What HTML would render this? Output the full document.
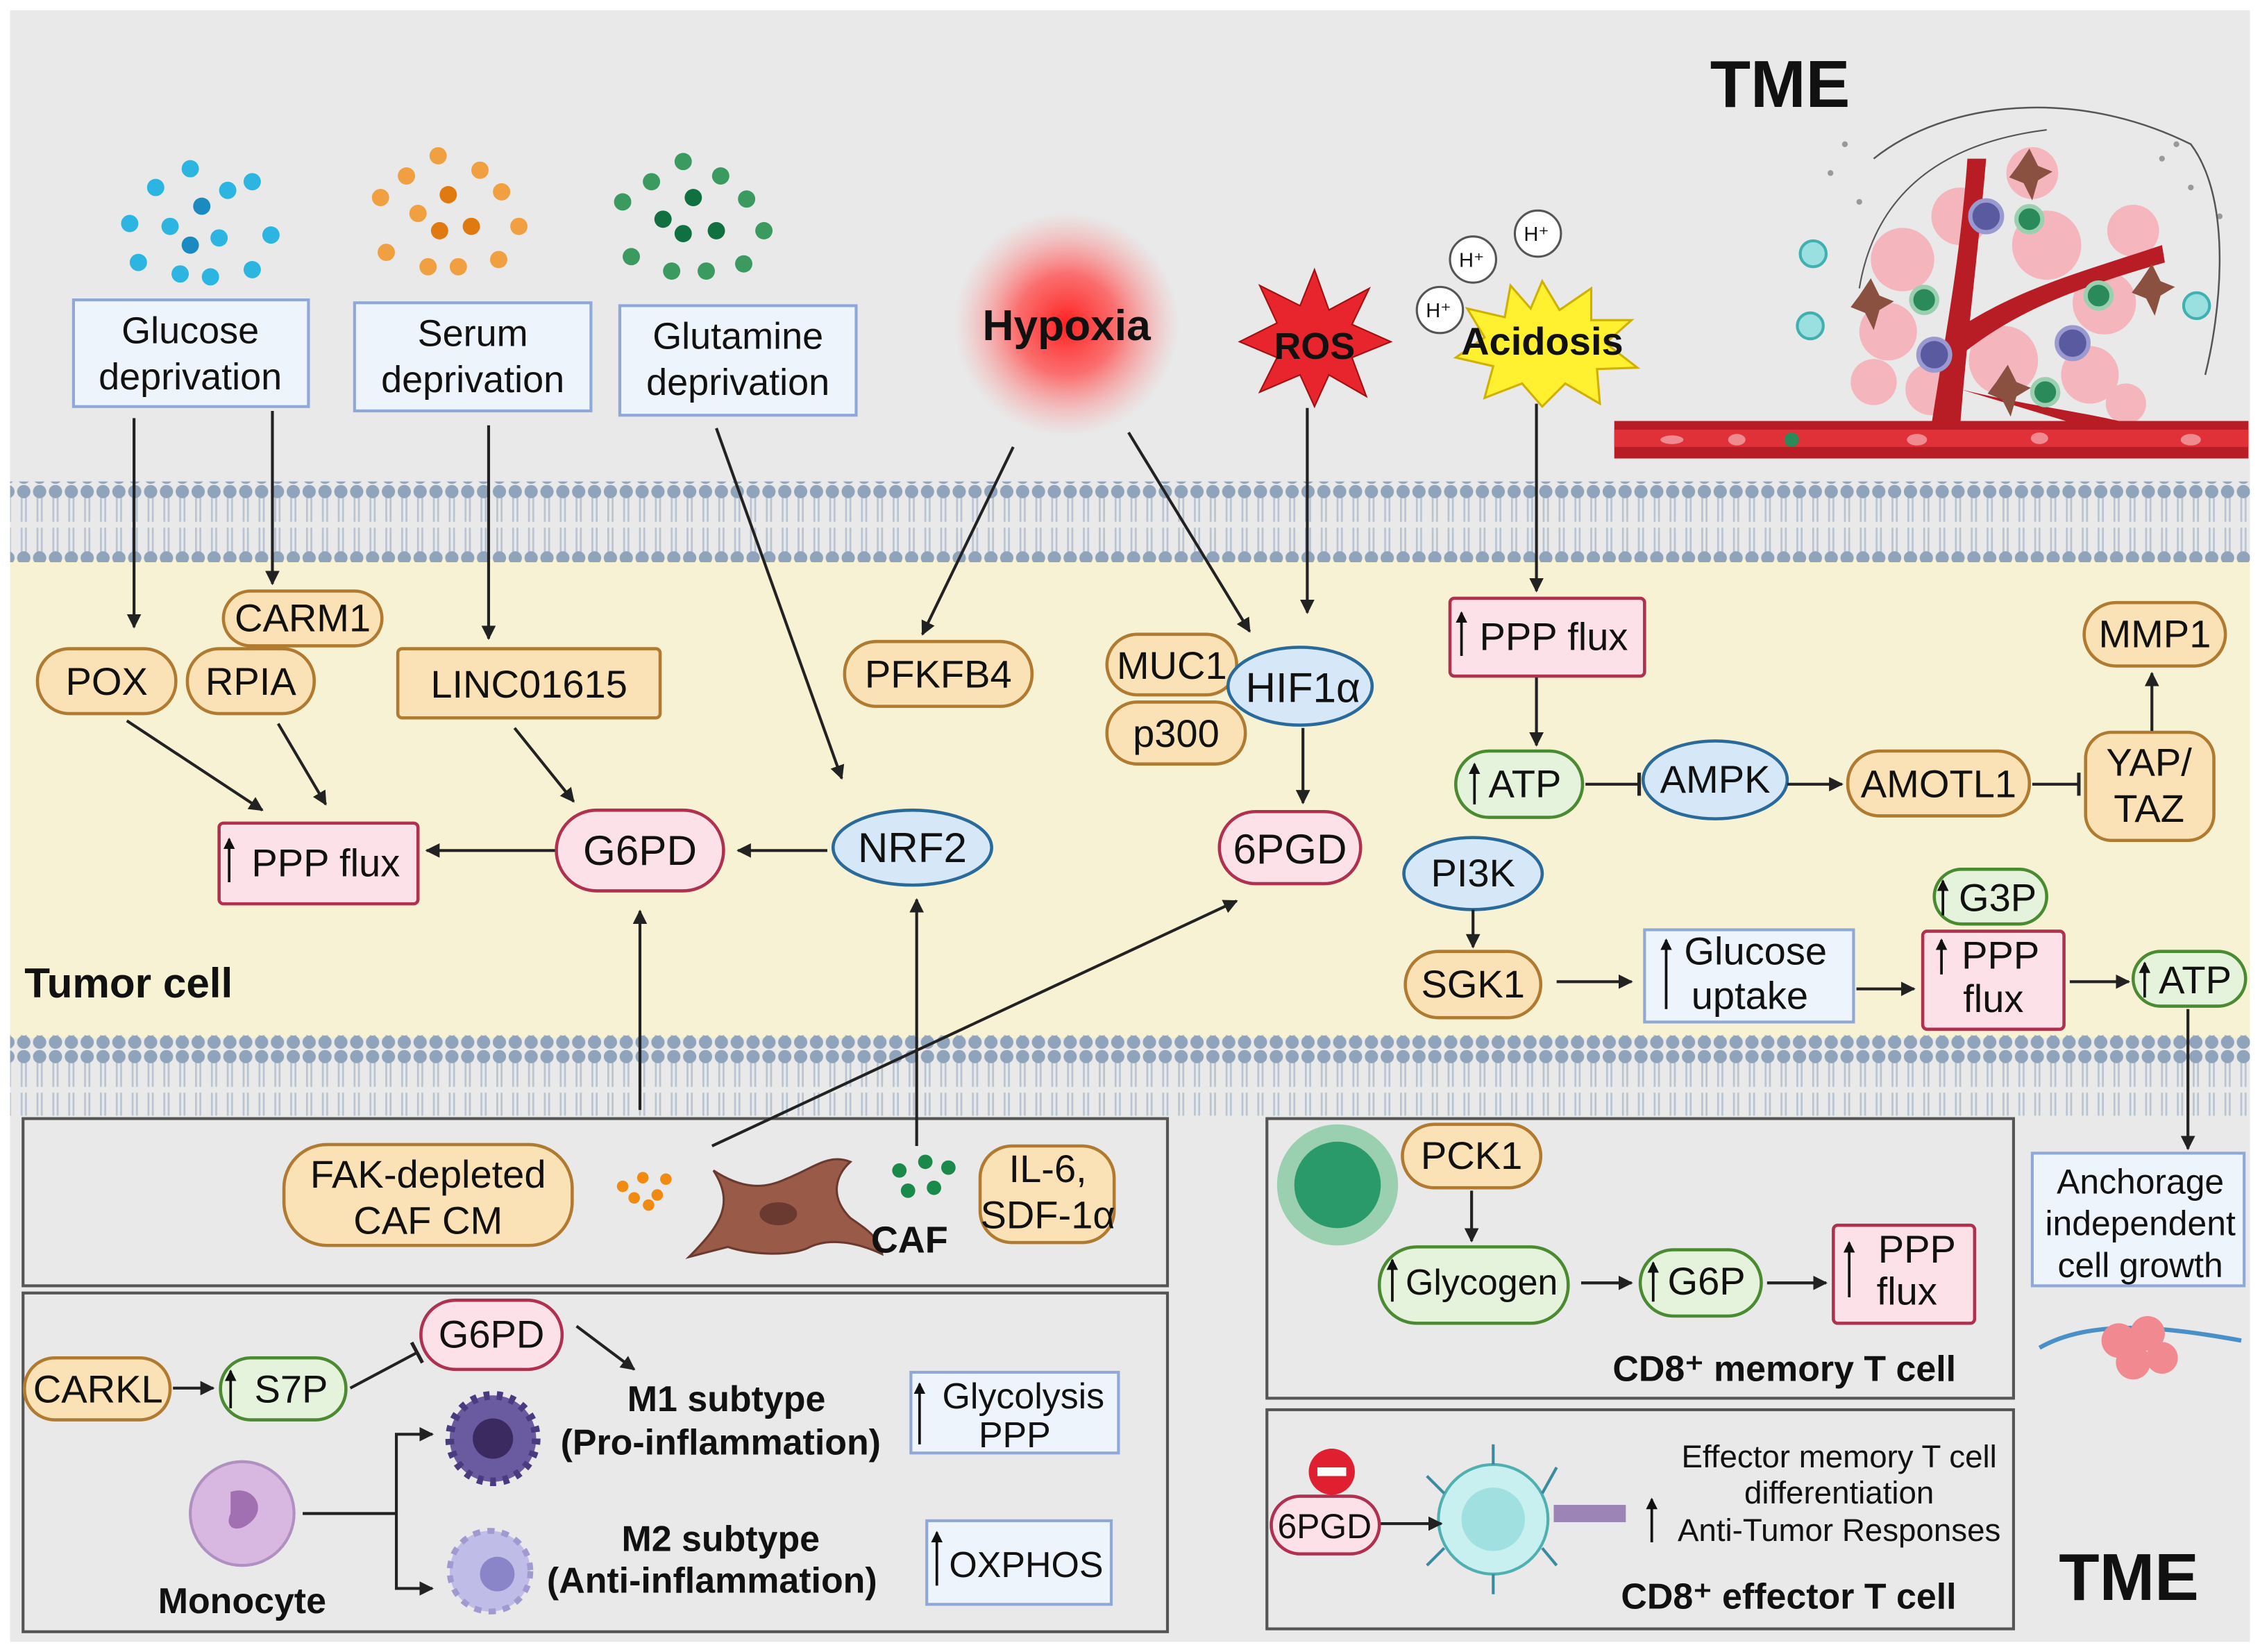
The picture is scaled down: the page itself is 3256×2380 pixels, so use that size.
<!DOCTYPE html>
<html><head><meta charset="utf-8"><style>
html,body{margin:0;padding:0;background:#fff;}
svg{display:block;}
text{font-family:"Liberation Sans",sans-serif;}
</style></head><body>
<svg width="3256" height="2380" viewBox="0 0 1568 1146" xmlns="http://www.w3.org/2000/svg">
<defs>
<marker id="ar" markerWidth="10" markerHeight="10" refX="9" refY="5" orient="auto" markerUnits="userSpaceOnUse"><path d="M0,0 L10,5 L0,10 z" fill="#222"/></marker>
<marker id="tee" markerWidth="4" markerHeight="16" refX="2" refY="8" orient="auto" markerUnits="userSpaceOnUse"><rect x="0" y="0" width="2.5" height="16" fill="#222"/></marker>
<marker id="ua" markerWidth="8" markerHeight="8" refX="7" refY="4" orient="auto" markerUnits="userSpaceOnUse"><path d="M0,0 L8,4 L0,8 z" fill="#111"/></marker>
<pattern id="mem" x="0" y="0" width="11" height="56" patternUnits="userSpaceOnUse">
<line x1="4" y1="8" x2="4" y2="26" stroke="#b8c4d2" stroke-width="1.3"/><line x1="7" y1="8" x2="7" y2="26" stroke="#b8c4d2" stroke-width="1.3"/>
<line x1="4" y1="30" x2="4" y2="48" stroke="#b8c4d2" stroke-width="1.3"/><line x1="7" y1="30" x2="7" y2="48" stroke="#b8c4d2" stroke-width="1.3"/>
<circle cx="5.5" cy="5" r="4.6" fill="#8fa3ba"/><circle cx="5.5" cy="51" r="4.6" fill="#8fa3ba"/>
</pattern>
<radialGradient id="hyp"><stop offset="0" stop-color="#ff2020"/><stop offset="0.45" stop-color="#ff5050" stop-opacity="0.8"/><stop offset="1" stop-color="#ff9090" stop-opacity="0"/></radialGradient>
</defs>
<rect width="1568" height="1146" fill="#fff"/>
<rect x="7" y="7" width="1554" height="1132" fill="#e9e9e9"/>
<rect x="7" y="388" width="1554" height="332" fill="#f7f2d4"/>
<rect x="7" y="334" width="1554" height="56" fill="url(#mem)"/>
<rect x="7" y="718" width="1554" height="56" fill="url(#mem)"/>

<g fill="#2bb5e0">
<circle cx="132" cy="117" r="6"/><circle cx="108" cy="130" r="6"/><circle cx="158" cy="132" r="6"/><circle cx="90" cy="155" r="6"/><circle cx="118" cy="157" r="6"/><circle cx="140" cy="143" r="6" fill="#1a8ac0"/><circle cx="152" cy="165" r="6"/><circle cx="175" cy="126" r="6"/><circle cx="188" cy="163" r="6"/><circle cx="96" cy="182" r="6"/><circle cx="125" cy="190" r="6"/><circle cx="146" cy="192" r="6"/><circle cx="175" cy="187" r="6"/><circle cx="132" cy="170" r="6" fill="#1a8ac0"/></g>
<g fill="#f0a040">
<circle cx="304" cy="108" r="6"/><circle cx="282" cy="122" r="6"/><circle cx="333" cy="118" r="6"/><circle cx="264" cy="137" r="6"/><circle cx="311" cy="135" r="6" fill="#e07a10"/><circle cx="348" cy="133" r="6"/><circle cx="290" cy="148" r="6"/><circle cx="305" cy="160" r="6" fill="#e07a10"/><circle cx="327" cy="157" r="6" fill="#e07a10"/><circle cx="360" cy="157" r="6"/><circle cx="268" cy="175" r="6"/><circle cx="297" cy="185" r="6"/><circle cx="318" cy="185" r="6"/><circle cx="346" cy="180" r="6"/></g>
<g fill="#3a9a60">
<circle cx="474" cy="112" r="6"/><circle cx="452" cy="126" r="6"/><circle cx="500" cy="122" r="6"/><circle cx="432" cy="140" r="6"/><circle cx="481" cy="137" r="6" fill="#107040"/><circle cx="518" cy="138" r="6"/><circle cx="460" cy="152" r="6" fill="#107040"/><circle cx="474" cy="162" r="6" fill="#107040"/><circle cx="497" cy="160" r="6" fill="#107040"/><circle cx="530" cy="160" r="6"/><circle cx="438" cy="178" r="6"/><circle cx="466" cy="188" r="6"/><circle cx="490" cy="188" r="6"/><circle cx="516" cy="183" r="6"/></g>

<g fill="#eef4fc" stroke="#8fa8d8" stroke-width="2">
<rect x="51" y="208" width="163" height="74"/><rect x="246" y="210" width="164" height="75"/><rect x="430" y="212" width="164" height="76"/>
<rect x="1141" y="645" width="145" height="64"/><rect x="1410" y="800" width="147" height="92"/></g>
<g font-size="26" fill="#111" text-anchor="middle">
<text x="132" y="238">Glucose</text><text x="132" y="270">deprivation</text>
<text x="328" y="240">Serum</text><text x="328" y="272">deprivation</text>
<text x="512" y="242">Glutamine</text><text x="512" y="274">deprivation</text></g>

<circle cx="740" cy="225" r="78" fill="url(#hyp)"/>
<text x="740" y="236" font-size="30" font-weight="bold" text-anchor="middle" fill="#111">Hypoxia</text>
<polygon points="912,187 922,215 950,200 938,225 965,237 938,248 948,275 922,260 912,282 902,260 874,272 886,248 860,237 886,224 874,198 902,212" fill="#e8242c" stroke="#a01010" stroke-width="1"/>
<text x="912" y="249" font-size="26" font-weight="bold" text-anchor="middle" fill="#111">ROS</text>
<polygon points="1070,195 1082,215 1104,200 1104,222 1132,222 1114,238 1136,255 1108,256 1110,280 1086,266 1070,282 1056,266 1030,276 1036,254 1010,248 1030,234 1018,214 1044,220 1048,198 1062,214" fill="#fff030" stroke="#d0b000" stroke-width="1.5"/>
<text x="1070" y="246" font-size="27" font-weight="bold" text-anchor="middle" fill="#111">Acidosis</text>
<g fill="#fff" stroke="#555" stroke-width="1.5"><circle cx="1022" cy="180" r="16"/><circle cx="1067" cy="162" r="16"/><circle cx="999" cy="215" r="16"/></g>
<g font-size="14" text-anchor="middle" fill="#111"><text x="1021" y="185">H⁺</text><text x="1066" y="167">H⁺</text><text x="998" y="220">H⁺</text></g>

<text x="1235" y="74" font-size="46" font-weight="bold" text-anchor="middle" fill="#111">TME</text>
<g fill="#f6b0b8" opacity="0.9">
<circle cx="1320" cy="180" r="22"/><circle cx="1360" cy="150" r="20"/><circle cx="1420" cy="170" r="24"/><circle cx="1460" cy="210" r="22"/><circle cx="1310" cy="230" r="20"/><circle cx="1390" cy="250" r="24"/><circle cx="1450" cy="260" r="20"/><circle cx="1340" cy="270" r="18"/><circle cx="1410" cy="120" r="18"/><circle cx="1480" cy="160" r="18"/><circle cx="1300" cy="265" r="16"/><circle cx="1475" cy="280" r="14"/></g>
<g fill="#999"><circle cx="1270" cy="120" r="2"/><circle cx="1290" cy="140" r="2"/><circle cx="1500" cy="110" r="2"/><circle cx="1520" cy="130" r="2"/><circle cx="1540" cy="150" r="2"/><circle cx="1510" cy="100" r="2"/><circle cx="1280" cy="100" r="2"/></g>
<rect x="1120" y="292" width="440" height="26" fill="#b81c24"/>
<rect x="1120" y="298" width="440" height="12" fill="#e03038"/>
<path d="M1340 295 C1350 230 1360 180 1365 110 L1378 110 C1372 180 1365 230 1360 295 Z" fill="#b81c24"/>
<path d="M1355 230 C1400 200 1440 190 1500 170 L1502 182 C1440 200 1400 215 1362 245 Z" fill="#b81c24"/>
<path d="M1360 270 C1400 280 1440 285 1470 292 L1440 294 Z" fill="#b81c24"/>
<path d="M1300 110 C1350 70 1440 60 1520 100 C1550 140 1540 220 1530 260" fill="none" stroke="#555" stroke-width="1.2"/>
<path d="M1290 200 C1300 140 1340 100 1420 90" fill="none" stroke="#555" stroke-width="1"/>
<g fill="#2a8a5a" stroke="#9ad0b0" stroke-width="3"><circle cx="1408" cy="152" r="9"/><circle cx="1335" cy="208" r="9"/><circle cx="1456" cy="205" r="9"/><circle cx="1419" cy="272" r="9"/></g>
<g fill="#5a5aa0" stroke="#9a9ad0" stroke-width="3"><circle cx="1378" cy="150" r="11"/><circle cx="1438" cy="238" r="11"/><circle cx="1342" cy="246" r="11"/></g>
<g fill="#9ae0e0" stroke="#40b0b0" stroke-width="2"><circle cx="1258" cy="176" r="9"/><circle cx="1256" cy="226" r="9"/><circle cx="1524" cy="212" r="9"/></g>
<g fill="#8a5040"><path d="M1290 205 l8 -12 l6 12 l10 4 l-10 6 l-4 14 l-6 -12 l-10 -4z"/><path d="M1485 195 l8 -12 l6 12 l10 4 l-10 6 l-4 14 l-6 -12 l-10 -4z"/><path d="M1385 265 l8 -12 l6 12 l10 4 l-10 6 l-4 14 l-6 -12 l-10 -4z"/><path d="M1400 115 l8 -12 l6 12 l10 4 l-10 6 l-4 14 l-6 -12 l-10 -4z"/></g>
<g fill="#f08a90"><ellipse cx="1160" cy="305" rx="8" ry="3"/><ellipse cx="1205" cy="305" rx="6" ry="4"/><ellipse cx="1330" cy="305" rx="7" ry="4"/><ellipse cx="1415" cy="304" rx="6" ry="4"/><ellipse cx="1520" cy="305" rx="7" ry="4"/></g>
<circle cx="1243" cy="305" r="5" fill="#2a8a5a"/>

<g fill="#fbe2b6" stroke="#b07a30" stroke-width="2.2">
<rect x="155" y="410" width="110" height="38" rx="19"/>
<rect x="26" y="450" width="96" height="45" rx="22"/>
<rect x="130" y="450" width="88" height="45" rx="22"/>
<rect x="276" y="450" width="182" height="48" rx="3"/>
<rect x="586" y="445" width="130" height="45" rx="22"/>
<rect x="768" y="440" width="90" height="42" rx="21"/>
<rect x="768" y="487" width="96" height="43" rx="21"/>
<rect x="1282" y="521" width="126" height="45" rx="22"/>
<rect x="1447" y="508" width="89" height="75" rx="18"/>
<rect x="1446" y="418" width="98" height="44" rx="22"/>
<rect x="975" y="660" width="94" height="46" rx="23"/>
</g>
<g fill="#fde1e8" stroke="#b03050" stroke-width="2.2">
<rect x="152" y="571" width="138" height="56" rx="3"/>
<rect x="386" y="562" width="116" height="56" rx="28"/>
<rect x="846" y="563" width="98" height="50" rx="25"/>
<rect x="1006" y="415" width="135" height="54" rx="3"/>
<rect x="1334" y="646" width="98" height="68" rx="3"/>
</g>
<g fill="#d6e8f7" stroke="#2a6a9a" stroke-width="2.2">
<ellipse cx="902" cy="476" rx="50" ry="27"/>
<ellipse cx="633" cy="588" rx="55" ry="26"/>
<ellipse cx="1190" cy="541" rx="50" ry="27"/>
<ellipse cx="1022" cy="606" rx="48" ry="25"/>
</g>
<g fill="#e6f3dc" stroke="#4a8a30" stroke-width="2.2">
<rect x="1010" y="521" width="88" height="46" rx="23"/>
<rect x="1342" y="603" width="78" height="38" rx="19"/>
<rect x="1480" y="660" width="78" height="38" rx="19"/>
</g>

<g font-size="27" fill="#111" text-anchor="middle">
<text x="210" y="438">CARM1</text>
<text x="74" y="482">POX</text>
<text x="174" y="482">RPIA</text>
<text x="367" y="484">LINC01615</text>
<text x="651" y="477">PFKFB4</text>
<text x="813" y="471">MUC1</text>
<text x="816" y="518">p300</text>
<text x="904" y="487" font-size="29">HIF1α</text>
<text x="226" y="608">PPP flux</text>
<text x="444" y="600" font-size="29">G6PD</text>
<text x="633" y="598" font-size="29">NRF2</text>
<text x="895" y="599" font-size="29">6PGD</text>
<text x="1078" y="451">PPP flux</text>
<text x="1058" y="553">ATP</text>
<text x="1190" y="550">AMPK</text>
<text x="1345" y="553">AMOTL1</text>
<text x="1491" y="538">YAP/</text><text x="1491" y="570">TAZ</text>
<text x="1495" y="449">MMP1</text>
<text x="1022" y="615">PI3K</text>
<text x="1022" y="692">SGK1</text>
<text x="1218" y="669">Glucose</text><text x="1214" y="700">uptake</text>
<text x="1386" y="632">G3P</text>
<text x="1388" y="672">PPP</text><text x="1383" y="702">flux</text>
<text x="1523" y="689">ATP</text>
<text x="1485" y="828" font-size="24">Anchorage</text><text x="1485" y="857" font-size="24">independent</text><text x="1485" y="886" font-size="24">cell growth</text>
</g>
<text x="17" y="692" font-size="29" font-weight="bold" fill="#111">Tumor cell</text>

<g fill="#e9e9e9" stroke="#555" stroke-width="2">
<rect x="16" y="776" width="794" height="116"/><rect x="16" y="897" width="794" height="235"/>
<rect x="879" y="776" width="518" height="194"/><rect x="879" y="978" width="518" height="152"/></g>
<g fill="#eef4fc" stroke="#8fa8d8" stroke-width="2"><rect x="632" y="952" width="144" height="56"/><rect x="643" y="1055" width="128" height="58"/></g>
<g fill="#fde1e8" stroke="#b03050" stroke-width="2.2"><rect x="1272" y="850" width="98" height="68" rx="3"/><rect x="882" y="1038" width="75" height="40" rx="20"/><rect x="292" y="902" width="98" height="48" rx="24"/></g>
<g fill="#fbe2b6" stroke="#b07a30" stroke-width="2.2">
<rect x="197" y="794" width="200" height="70" rx="30"/><rect x="680" y="795" width="93" height="67" rx="22"/><rect x="17" y="942" width="101" height="43" rx="21"/><rect x="973" y="780" width="96" height="44" rx="22"/></g>
<g fill="#e6f3dc" stroke="#4a8a30" stroke-width="2.2"><rect x="153" y="942" width="87" height="43" rx="21"/><rect x="957" y="865" width="131" height="53" rx="26"/><rect x="1138" y="867" width="84" height="46" rx="23"/></g>

<path d="M478 872 C500 850 510 835 495 812 C515 825 530 825 545 818 C565 810 575 800 590 806 C580 815 575 830 590 845 C600 852 610 858 612 870 C595 862 575 858 560 866 C545 872 520 870 505 865 Z" fill="#9a5a48" stroke="#6a3a30" stroke-width="1.5"/>
<ellipse cx="540" cy="842" rx="13" ry="8" fill="#6a3a30"/>
<g fill="#f08a10"><circle cx="432" cy="823" r="4"/><circle cx="446" cy="817" r="4"/><circle cx="440" cy="831" r="4"/><circle cx="456" cy="829" r="4"/><circle cx="462" cy="818" r="4"/><circle cx="450" cy="836" r="4"/></g>
<g fill="#1a8a4a"><circle cx="624" cy="812" r="5"/><circle cx="642" cy="806" r="5"/><circle cx="658" cy="810" r="5"/><circle cx="630" cy="826" r="5"/><circle cx="648" cy="824" r="5"/></g>
<g font-size="27" fill="#111" text-anchor="middle">
<text x="297" y="824">FAK-depleted</text><text x="297" y="856">CAF CM</text>
<text x="727" y="820">IL-6,</text><text x="727" y="852">SDF-1α</text>
<text x="68" y="973">CARKL</text><text x="202" y="973">S7P</text><text x="341" y="935">G6PD</text>
<text x="1021" y="811">PCK1</text><text x="1028" y="898" font-size="25">Glycogen</text><text x="1184" y="898">G6P</text>
<text x="1330" y="876">PPP</text><text x="1323" y="905">flux</text>
<text x="919" y="1067" font-size="24">6PGD</text>
<text x="710" y="977" font-size="25">Glycolysis</text><text x="704" y="1004" font-size="25">PPP</text>
<text x="712" y="1094" font-size="25">OXPHOS</text>
</g>
<g stroke="#111" stroke-width="1.8" marker-end="url(#ua)">
<line x1="159" y1="612" x2="159" y2="582"/>
<line x1="1014" y1="455" x2="1014" y2="425"/>
<line x1="1023" y1="558" x2="1023" y2="530"/>
<line x1="1156" y1="700" x2="1156" y2="652"/>
<line x1="1348" y1="635" x2="1348" y2="611"/>
<line x1="1347" y1="676" x2="1347" y2="652"/>
<line x1="1488" y1="692" x2="1488" y2="668"/>
<line x1="160" y1="977" x2="160" y2="951"/>
<line x1="966" y1="903" x2="966" y2="874"/>
<line x1="1147" y1="903" x2="1147" y2="876"/>
<line x1="1283" y1="900" x2="1283" y2="862"/>
<line x1="638" y1="1002" x2="638" y2="960"/>
<line x1="650" y1="1100" x2="650" y2="1063"/>
<line x1="1146" y1="1070" x2="1146" y2="1040"/>
</g>
<text x="631" y="869" font-size="26" font-weight="bold" text-anchor="middle" fill="#111">CAF</text>
<g font-size="25" font-weight="bold" fill="#111" text-anchor="middle">
<text x="504" y="979">M1 subtype</text><text x="500" y="1009">(Pro-inflammation)</text>
<text x="500" y="1076">M2 subtype</text><text x="494" y="1105">(Anti-inflammation)</text>
<text x="168" y="1119">Monocyte</text>
<text x="1238" y="958">CD8⁺ memory T cell</text>
<text x="1241" y="1116">CD8⁺ effector T cell</text>
</g>
<text x="1477" y="1110" font-size="46" font-weight="bold" text-anchor="middle" fill="#111">TME</text>
<g font-size="22" fill="#111" text-anchor="middle"><text x="1276" y="1018">Effector memory T cell</text><text x="1276" y="1043">differentiation</text><text x="1276" y="1069">Anti-Tumor Responses</text></g>

<circle cx="168" cy="1050" r="36" fill="#d8b8e0" stroke="#b090c0" stroke-width="2"/>
<path d="M160 1035 c15 -5 25 10 15 20 c-10 10 -20 5 -15 -5 z" fill="#a070b0"/>
<circle cx="342" cy="998" r="30" fill="#6a5aa0" stroke="#4a3a80" stroke-width="6" stroke-dasharray="4 5"/>
<circle cx="342" cy="998" r="14" fill="#3a2a60"/>
<circle cx="340" cy="1090" r="28" fill="#c0bce8" stroke="#a09ad0" stroke-width="4" stroke-dasharray="5 5"/>
<circle cx="345" cy="1092" r="12" fill="#8a84c8"/>
<circle cx="928" cy="822" r="42" fill="#9ad0b0"/><circle cx="928" cy="822" r="30" fill="#2a9a6a"/>
<circle cx="1036" cy="1054" r="38" fill="#c8f0f0" stroke="#50b0b0" stroke-width="2"/><circle cx="1036" cy="1054" r="22" fill="#a0e0e0"/>
<g stroke="#3a8aa0" stroke-width="2"><line x1="1036" y1="1016" x2="1036" y2="1002"/><line x1="1036" y1="1092" x2="1036" y2="1106"/><line x1="1002" y1="1036" x2="990" y2="1024"/><line x1="1002" y1="1074" x2="990" y2="1086"/><line x1="1070" y1="1036" x2="1080" y2="1018"/><line x1="1070" y1="1074" x2="1080" y2="1086"/></g>
<rect x="1078" y="1044" width="50" height="12" fill="#7a5aa0" opacity="0.7"/>
<circle cx="924" cy="1021" r="16" fill="#e02030"/><rect x="914" y="1018" width="20" height="6" fill="#fff"/>
<path d="M1415 935 C1450 915 1500 920 1555 930" fill="none" stroke="#4a90c8" stroke-width="3"/>
<g fill="#f08a90"><circle cx="1470" cy="930" r="12"/><circle cx="1490" cy="925" r="12"/><circle cx="1480" cy="945" r="12"/><circle cx="1500" cy="942" r="11"/></g>

<g stroke="#222" stroke-width="2" fill="none" marker-end="url(#ar)">
<line x1="93" y1="290" x2="93" y2="435"/>
<line x1="189" y1="285" x2="189" y2="405"/>
<line x1="339" y1="295" x2="339" y2="443"/>
<line x1="497" y1="297" x2="584" y2="540"/>
<line x1="703" y1="310" x2="640" y2="440"/>
<line x1="783" y1="300" x2="867" y2="438"/>
<line x1="907" y1="283" x2="907" y2="425"/>
<line x1="1066" y1="280" x2="1066" y2="410"/>
<line x1="88" y1="500" x2="182" y2="562"/>
<line x1="193" y1="502" x2="226" y2="558"/>
<line x1="357" y1="505" x2="398" y2="556"/>
<line x1="385" y1="590" x2="296" y2="590"/>
<line x1="574" y1="590" x2="512" y2="590"/>
<line x1="904" y1="505" x2="904" y2="557"/>
<line x1="444" y1="770" x2="444" y2="632"/>
<line x1="636" y1="795" x2="636" y2="624"/>
<line x1="494" y1="795" x2="858" y2="625"/>
<line x1="1066" y1="470" x2="1066" y2="517"/>
<line x1="1240" y1="544" x2="1278" y2="544"/>
<line x1="1493" y1="507" x2="1493" y2="467"/>
<line x1="1022" y1="631" x2="1022" y2="657"/>
<line x1="1080" y1="681" x2="1132" y2="681"/>
<line x1="1288" y1="686" x2="1328" y2="686"/>
<line x1="1436" y1="681" x2="1477" y2="681"/>
<line x1="1518" y1="700" x2="1518" y2="797"/>
<line x1="1021" y1="826" x2="1021" y2="861"/>
<line x1="1097" y1="890" x2="1132" y2="890"/>
<line x1="1226" y1="890" x2="1267" y2="890"/>
<line x1="120" y1="963" x2="148" y2="963"/>
<line x1="400" y1="920" x2="440" y2="950"/>
<line x1="958" y1="1057" x2="1000" y2="1057"/>
<path d="M275 1050 L275 995 L300 995"/>
<path d="M275 1050 L275 1102 L300 1102"/>
</g>
<line x1="210" y1="1050" x2="275" y2="1050" stroke="#222" stroke-width="2"/>
<g stroke="#222" stroke-width="2" fill="none" marker-end="url(#tee)">
<line x1="1100" y1="544" x2="1138" y2="544"/>
<line x1="1410" y1="544" x2="1443" y2="544"/>
<line x1="243" y1="963" x2="290" y2="938"/>
</g>
</svg>
</body></html>
